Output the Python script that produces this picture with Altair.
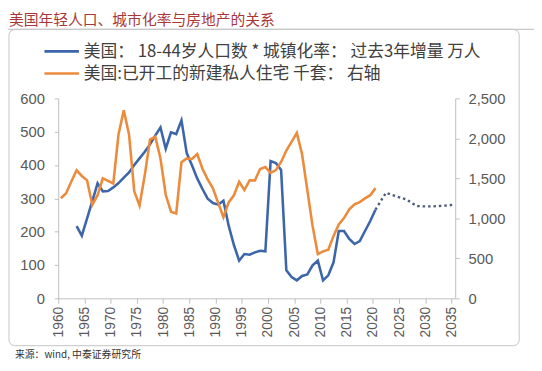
import altair as alt
import pandas as pd

# ---------------- data ----------------
blue_years = list(range(1963, 2021))
blue_vals = [217, 188, 240, 292, 345, 321, 322, 333, 346, 362,
             378, 400, 420, 440, 462, 488, 513, 449, 498, 493,
             534, 436, 399, 360, 328, 299, 286, 281, 293, 218,
             160, 113, 133, 131, 138, 143, 141, 412, 406, 385,
             84, 64, 54, 67, 72, 99, 113, 54, 69, 108,
             202, 202, 178, 163, 172, 202, 232, 266]

orange_years = list(range(1960, 2021))
orange_vals = [1252, 1314, 1460, 1601, 1530, 1475, 1168, 1290, 1500, 1468,
               1436, 2052, 2352, 2050, 1338, 1160, 1538, 1985, 2020, 1748,
               1295, 1084, 1062, 1703, 1750, 1742, 1805, 1621, 1488, 1376,
               1193, 1014, 1200, 1288, 1457, 1354, 1477, 1474, 1617, 1641,
               1569, 1603, 1705, 1848, 1956, 2068, 1801, 1355, 906, 554,
               587, 609, 781, 925, 1003, 1112, 1174, 1203, 1250, 1290, 1378]

fore_years = list(range(2020, 2036))
fore_vals = [266, 292, 317, 311, 306, 301, 296, 285, 277, 276, 276, 276,
             277, 278, 279, 281]

x_ticks = list(range(1960, 2036, 5))
left_ticks = [0, 100, 200, 300, 400, 500, 600]
right_ticks = [0, 500, 1000, 1500, 2000, 2500]

title_text = "美国年轻人口、城市化率与房地产的关系"
legend_blue = "美国：  18-44岁人口数 * 城镇化率：  过去3年增量 万人"
legend_orange = "美国:已开工的新建私人住宅 千套：  右轴"
source_text = "来源：wind, 中泰证券研究所"

BLUE = "#3d66aa"
ORANGE = "#ec8b3c"
DOTTED = "#4c5c78"
GREY = "#bfbfbf"
LABEL = "#595959"

df_blue = pd.DataFrame({"year": blue_years, "v": blue_vals})
df_orange = pd.DataFrame({"year": orange_years, "v": orange_vals})
df_fore = pd.DataFrame({"year": fore_years, "v": fore_vals})
one = pd.DataFrame({"k": [0]})

xscale = alt.Scale(domain=[1960, 2035.7], nice=False, zero=False)
xaxis = alt.Axis(values=x_ticks, format="d", labelAngle=270, title=None, grid=False,
                 labelFontSize=14, labelColor=LABEL, labelFont="Liberation Sans",
                 domainColor=GREY, tickColor=GREY, tickSize=5, labelPadding=3,
                 labelFlush=False, labelOverlap=False)
X = alt.X("xpos:Q", scale=xscale, axis=xaxis)

left_axis = alt.Axis(values=left_ticks, format="d", title=None, grid=False,
                     labelFontSize=15, labelColor=LABEL, labelFont="Liberation Sans",
                     domainColor=GREY, tickColor=GREY, tickSize=4, labelPadding=10)
right_axis = alt.Axis(values=right_ticks, format=",.0f", orient="right", title=None,
                      grid=False, labelFontSize=15, labelColor=LABEL,
                      labelFont="Liberation Sans", domainColor=GREY, tickColor=GREY,
                      tickSize=4, labelPadding=9)

blue = alt.Chart(df_blue).transform_calculate(xpos="datum.year + 0.5").mark_line(
    color=BLUE, strokeWidth=2.6).encode(
    x=X, y=alt.Y("v:Q", scale=alt.Scale(domain=[0, 600], nice=False), axis=left_axis))

fore = alt.Chart(df_fore).transform_calculate(xpos="datum.year + 0.5").mark_line(
    color=DOTTED, strokeWidth=2.4, strokeDash=[2.5, 3]).encode(
    x=X, y=alt.Y("v:Q", scale=alt.Scale(domain=[0, 600], nice=False), axis=None))

orange = alt.Chart(df_orange).transform_calculate(xpos="datum.year + 0.5").mark_line(
    color=ORANGE, strokeWidth=2.6).encode(
    x=X, y=alt.Y("v:Q", scale=alt.Scale(domain=[0, 2500], nice=False), axis=right_axis))

box = alt.Chart(one).mark_rect(fillOpacity=0, stroke="#d0d0d0", strokeWidth=1.2,
                               cornerRadius=6).encode(
    x=alt.value(-50), x2=alt.value(468), y=alt.value(-70), y2=alt.value(251))
underline = alt.Chart(one).mark_rule(color="#c8c8c8", strokeWidth=1.2).encode(
    x=alt.value(-51), x2=alt.value(483), y=alt.value(-70))

title = alt.Chart(one).mark_text(text=title_text, align="left", baseline="middle",
                                 fontSize=15, color="#a83838",
                                 font="Noto Sans CJK SC").encode(
    x=alt.value(-50), y=alt.value(-79))

leg_line_b = alt.Chart(one).mark_rule(color=BLUE, strokeWidth=2.6).encode(
    x=alt.value(-14), x2=alt.value(21), y=alt.value(-47.7))
leg_line_o = alt.Chart(one).mark_rule(color=ORANGE, strokeWidth=2.6).encode(
    x=alt.value(-14), x2=alt.value(21), y=alt.value(-25.3))
leg_text_b = alt.Chart(one).mark_text(text=legend_blue, align="left", baseline="middle",
                                      fontSize=17, color="#404040",
                                      font="Noto Sans CJK SC").encode(
    x=alt.value(26), y=alt.value(-47.5))
leg_text_o = alt.Chart(one).mark_text(text=legend_orange, align="left", baseline="middle",
                                      fontSize=17, color="#404040",
                                      font="Noto Sans CJK SC").encode(
    x=alt.value(26), y=alt.value(-25))

source = alt.Chart(one).mark_text(text=source_text, align="left", baseline="middle",
                                  fontSize=10, color="#333333",
                                  font="Noto Sans CJK SC").encode(
    x=alt.value(-44), y=alt.value(261))

chart = alt.layer(
    box, underline, blue, fore, orange, title,
    leg_line_b, leg_line_o, leg_text_b, leg_text_o, source
).resolve_scale(y="independent").properties(
    width=403, height=203,
    autosize=alt.AutoSizeParams(type="none"),
    padding={"left": 51, "top": 89, "right": 80, "bottom": 71},
    background="white",
).configure_view(stroke=None)

chart.save("out.html", embed_options={"renderer": "svg", "actions": False})
